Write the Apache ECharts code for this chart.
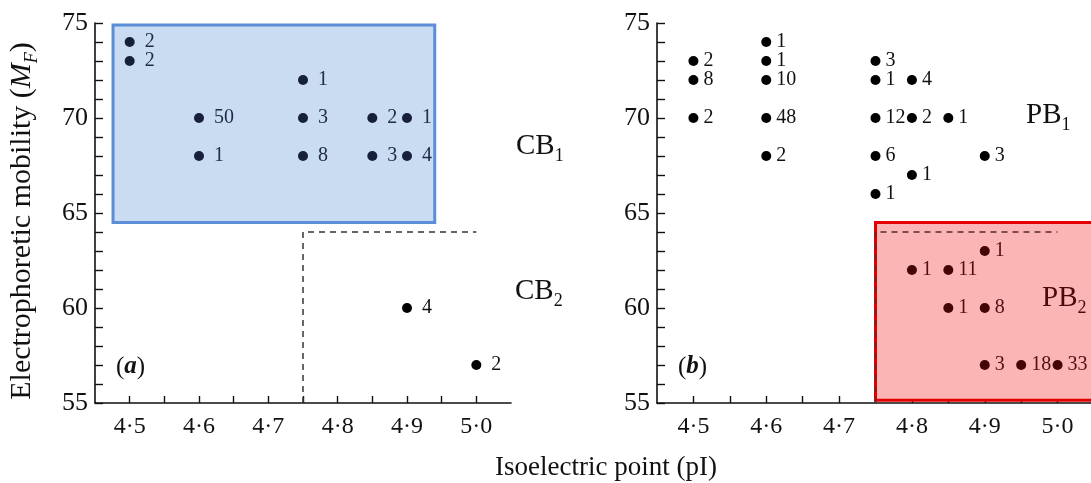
<!DOCTYPE html>
<html>
<head>
<meta charset="utf-8">
<script src="https://cdn.jsdelivr.net/npm/echarts@6/dist/echarts.min.js"></script>
<style>
  html, body { margin: 0; padding: 0; background: #ffffff; }
  #chart { width: 1091px; height: 483px; }
</style>
</head>
<body>
<div id="chart"></div>
<script>
// Electrophoretic mobility (M_F) against isoelectric point (pI).
// Each dot is one (pI, M_F) class; the number beside it is how many strains fall in it.

// ---- panel (a): CB strains ----
const cb1X = [4.5, 4.5, 4.6, 4.6, 4.75, 4.75, 4.75, 4.85, 4.85, 4.9, 4.9];
const cb1Y = [74, 73, 70, 68, 72, 70, 68, 70, 68, 70, 68];
const cb1N = [2, 2, 50, 1, 1, 3, 8, 2, 3, 1, 4];

const cb2X = [4.9, 5.0];
const cb2Y = [60, 57];
const cb2N = [4, 2];

// ---- panel (b): PB strains ----
const pb1X = [4.5, 4.5, 4.5, 4.6, 4.6, 4.6, 4.6, 4.6, 4.75, 4.75, 4.8, 4.75, 4.8, 4.85, 4.75, 4.8, 4.75, 4.9];
const pb1Y = [73, 72, 70, 74, 73, 72, 70, 68, 73, 72, 72, 70, 70, 70, 68, 67, 66, 68];
const pb1N = [2, 8, 2, 1, 1, 10, 48, 2, 3, 1, 4, 12, 2, 1, 6, 1, 1, 3];

const pb2X = [4.9, 4.8, 4.85, 4.85, 4.9, 4.9, 4.95, 5.0];
const pb2Y = [63, 62, 62, 60, 60, 57, 57, 57];
const pb2N = [1, 1, 11, 1, 8, 3, 18, 33];

// group boundary (dashed) shared by both panels
const boundaryX = [4.75, 4.75, 5.0];
const boundaryY = [55, 64, 64];

// highlighted regions, in data units: [x1, y1, x2, y2]
const cb1Region = [4.476, 74.9, 4.94, 64.5];
const pb2Region = [4.75, 64.5, 5.12, 55.15];

// axis ticks and labels
const xTickValues = [4.5, 4.55, 4.6, 4.65, 4.7, 4.75, 4.8, 4.85, 4.9, 4.95, 5.0];
const xLabelValues = [4.5, 4.6, 4.7, 4.8, 4.9, 5.0];
const yTickValues = [55, 56, 57, 58, 59, 60, 61, 62, 63, 64, 65, 66, 67, 68, 69, 70, 71, 72, 73, 74, 75];
const yLabelValues = [55, 60, 65, 70, 75];

const SERIF = '"Liberation Serif", "DejaVu Serif", serif';
const INK = '#111111';

const chart = echarts.init(document.getElementById('chart'), null, { renderer: 'canvas' });

function xAxisFor(gridIndex) {
  return {
    gridIndex: gridIndex,
    type: 'value',
    min: 4.45,
    max: 5.05,
    axisLine: { show: true, onZero: false, lineStyle: { color: INK, width: 1.6 } },
    axisTick: { show: true, inside: true, length: 7, customValues: xTickValues,
                lineStyle: { color: INK, width: 1.4 } },
    axisLabel: { customValues: xLabelValues, margin: 12, color: INK,
                 fontFamily: SERIF, fontSize: 24,
                 formatter: v => Number(v).toFixed(1).replace('.', '\u00b7') },
    splitLine: { show: false }
  };
}

function yAxisFor(gridIndex) {
  return {
    gridIndex: gridIndex,
    type: 'value',
    min: 55,
    max: 75,
    axisLine: { show: true, onZero: false, lineStyle: { color: INK, width: 1.6 } },
    axisTick: { show: true, inside: true, length: 8, customValues: yTickValues,
                lineStyle: { color: INK, width: 1.4 } },
    axisLabel: { customValues: yLabelValues, margin: 7, color: INK,
                 fontFamily: SERIF, fontSize: 26 },
    splitLine: { show: false }
  };
}

function zip(xs, ys, ns) {
  return xs.map((x, i) => [x, ys[i], ns[i]]);
}

function regionArea(r, fill, border) {
  return {
    silent: true,
    label: { show: false },
    itemStyle: { color: fill, borderColor: border, borderWidth: 3, opacity: 1 },
    data: [[{ coord: [r[0], r[1]] }, { coord: [r[2], r[3]] }]]
  };
}

function pointSeries(axisIndex, name, xs, ys, ns, dotColor, textColor, dist, area) {
  const s = {
    name: name,
    type: 'scatter',
    xAxisIndex: axisIndex,
    yAxisIndex: axisIndex,
    z: 4,
    symbol: 'circle',
    symbolSize: 10,
    clip: false,
    silent: true,
    itemStyle: { color: dotColor, opacity: 1 },
    label: {
      show: true,
      position: 'right',
      distance: dist,
      color: textColor,
      fontFamily: SERIF,
      fontSize: 20,
      formatter: p => String(p.value[2])
    },
    data: zip(xs, ys, ns)
  };
  if (area) s.markArea = area;
  return s;
}

function boundarySeries(axisIndex, color) {
  return {
    type: 'line',
    xAxisIndex: axisIndex,
    yAxisIndex: axisIndex,
    z: 3,
    silent: true,
    showSymbol: false,
    symbol: 'none',
    lineStyle: { color: color, width: 1.5, type: [6, 5] },
    data: boundaryX.map((x, i) => [x, boundaryY[i]])
  };
}

// group name with a numeric subscript
function groupLabel(x, y, base, sub, color) {
  const size = 29;
  return {
    type: 'text', z: 10, silent: true,
    style: {
      x: x, y: y, verticalAlign: 'middle', align: 'left',
      text: '{b|' + base + '}{s|' + sub + '}',
      fill: color, fontFamily: SERIF, fontSize: size,
      rich: {
        b: { fontFamily: SERIF, fontSize: size, lineHeight: size + 10, fill: color },
        s: { fontFamily: SERIF, fontSize: 18, lineHeight: 18, verticalAlign: 'bottom', fill: color }
      }
    }
  };
}

function panelTag(x, y, letter) {
  return {
    type: 'text', z: 10, silent: true,
    style: {
      x: x, y: y, verticalAlign: 'middle', align: 'left',
      text: '{p|(}{i|' + letter + '}{p|)}',
      fontFamily: SERIF, fontSize: 25, fill: INK,
      rich: {
        p: { fontFamily: SERIF, fontSize: 25, fill: INK },
        i: { fontFamily: SERIF, fontSize: 25, fontStyle: 'italic', fontWeight: 'bold', fill: INK }
      }
    }
  };
}

const option = {
  backgroundColor: '#ffffff',
  animation: false,
  grid: [
    { left: 95, top: 23, width: 416, height: 380, containLabel: false, outerBoundsMode: 'none' },
    { left: 657, top: 23, width: 437, height: 380, containLabel: false, outerBoundsMode: 'none' }
  ],
  xAxis: [xAxisFor(0), xAxisFor(1)],
  yAxis: [yAxisFor(0), yAxisFor(1)],
  series: [
    boundarySeries(0, '#333333'),
    pointSeries(0, 'CB1', cb1X, cb1Y, cb1N, '#16203a', '#202c48', 10,
                regionArea(cb1Region, '#cadcf1', '#5b8ed6')),
    pointSeries(0, 'CB2', cb2X, cb2Y, cb2N, '#000000', INK, 10, null),
    boundarySeries(1, '#5a2a2a'),
    pointSeries(1, 'PB1', pb1X, pb1Y, pb1N, '#000000', INK, 5, null),
    pointSeries(1, 'PB2', pb2X, pb2Y, pb2N, '#440505', '#520f0f', 5,
                regionArea(pb2Region, '#fbb5b5', '#e40000'))
  ],
  graphic: [
    // axis titles
    {
      type: 'text', silent: true, z: 10,
      style: { x: 606, y: 468, text: 'Isoelectric point (pI)', align: 'center', verticalAlign: 'middle',
               fontFamily: SERIF, fontSize: 27, fill: INK }
    },
    {
      type: 'text', silent: true, z: 10,
      x: 22, y: 221, rotation: Math.PI / 2,
      style: {
        x: 0, y: 0, align: 'center', verticalAlign: 'middle',
        text: '{t|Electrophoretic mobility (}{m|M}{f|F}{t|)}',
        fontFamily: SERIF, fontSize: 30, fill: INK,
        rich: {
          t: { fontFamily: SERIF, fontSize: 30, lineHeight: 38, fill: INK },
          m: { fontFamily: SERIF, fontSize: 30, lineHeight: 38, fontStyle: 'italic', fill: INK },
          f: { fontFamily: SERIF, fontSize: 18, lineHeight: 18, fontStyle: 'italic',
               verticalAlign: 'bottom', fill: INK }
        }
      }
    },
    // group names
    groupLabel(516, 146, 'CB', '1', INK),
    groupLabel(515, 291, 'CB', '2', INK),
    groupLabel(1026, 115, 'PB', '1', INK),
    groupLabel(1042, 298, 'PB', '2', '#4a0a0a'),
    // panel tags
    panelTag(116, 367, 'a'),
    panelTag(678, 367, 'b')
  ]
};

chart.setOption(option);
</script>
</body>
</html>
